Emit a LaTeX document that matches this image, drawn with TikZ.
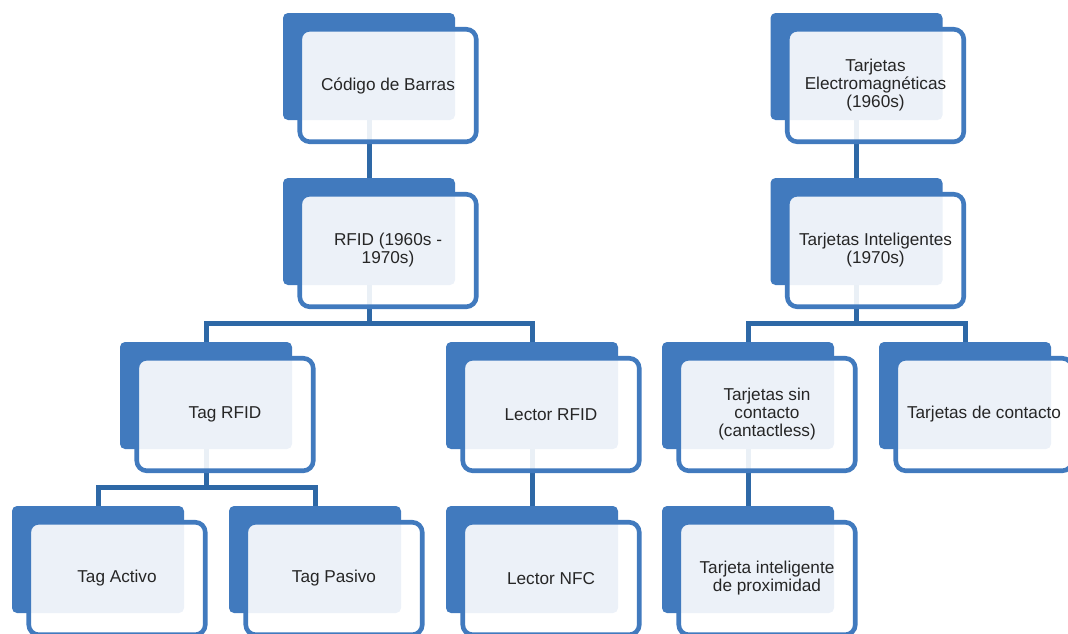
\documentclass[tikz,border=0pt]{standalone}
\usepackage{fontspec}
\setmainfont{Liberation Sans}
\definecolor{cardblue}{RGB}{65,122,190}
\definecolor{linkblue}{RGB}{46,104,166}
\definecolor{cardtext}{RGB}{38,38,38}
\tikzset{
  cardback/.style={rectangle, fill=cardblue, rounded corners=5pt, minimum width=172pt,
    minimum height=107pt, inner sep=0pt, outer sep=0pt},
  cardfront/.style={rectangle, draw=cardblue, line width=4.6pt, fill=white, fill opacity=0.9,
    text opacity=1, rounded corners=10pt, minimum width=176.5pt, minimum height=112.5pt,
    inner sep=0pt, align=center, xshift=19pt, yshift=-19pt, text=cardtext,
    font=\fontsize{17.2}{18}\selectfont},
  link/.style={draw=linkblue, line width=5pt}
}

\begin{document}
\begin{tikzpicture}[x=1pt, y=-1pt]
  \clip (0,0) rectangle (1068,633);
  \useasboundingbox (0,0) rectangle (1068,633);

  % back cards
  \node[cardback] (cb) at (369,66.5) {};
  \node[cardback] (rfid) at (369,231.5) {};
  \node[cardback] (tag) at (206,395.5) {};
  \node[cardback] (lector) at (532,395.5) {};
  \node[cardback] (activo) at (98,559.5) {};
  \node[cardback] (pasivo) at (315,559.5) {};
  \node[cardback] (nfc) at (532,559.5) {};
  \node[cardback] (em) at (856.5,66.5) {};
  \node[cardback] (intel) at (856.5,231.5) {};
  \node[cardback] (sin) at (748,395.5) {};
  \node[cardback] (contacto) at (965,395.5) {};
  \node[cardback] (prox) at (748,559.5) {};

  % links
  \draw[link] (cb.south) -- (rfid.north);
  \draw[link] (rfid.south) -- ++(0,38) -| (tag.north);
  \draw[link] (rfid.south) -- ++(0,38) -| (lector.north);
  \draw[link] (tag.south) -- ++(0,38.5) -| (activo.north);
  \draw[link] (tag.south) -- ++(0,38.5) -| (pasivo.north);
  \draw[link] (lector.south) -- (nfc.north);
  \draw[link] (em.south) -- (intel.north);
  \draw[link] (intel.south) -- ++(0,38) -| (sin.north);
  \draw[link] (intel.south) -- ++(0,38) -| (contacto.north);
  \draw[link] (sin.south) -- (prox.north);

  % front cards
  \node[cardfront] (cbf) at (cb) {Código de Barras};
  \node[cardfront] (rfidf) at (rfid) {RFID (1960s -\\ 1970s)};
  \node[cardfront] (tagf) at (tag) {Tag RFID};
  \node[cardfront] (lectorf) at (lector) {Lector RFID};
  \node[cardfront] (activof) at (activo) {Tag Activo};
  \node[cardfront] (pasivof) at (pasivo) {Tag Pasivo};
  \node[cardfront] (nfcf) at (nfc) {Lector NFC};
  \node[cardfront] (emf) at (em) {Tarjetas\\ Electromagnéticas\\ (1960s)};
  \node[cardfront] (intelf) at (intel) {Tarjetas Inteligentes\\ (1970s)};
  \node[cardfront] (sinf) at (sin) {Tarjetas sin\\ contacto\\ (cantactless)};
  \node[cardfront] (contactof) at (contacto) {Tarjetas de contacto};
  \node[cardfront] (proxf) at (prox) {Tarjeta inteligente\\ de proximidad};
\end{tikzpicture}
\end{document}
